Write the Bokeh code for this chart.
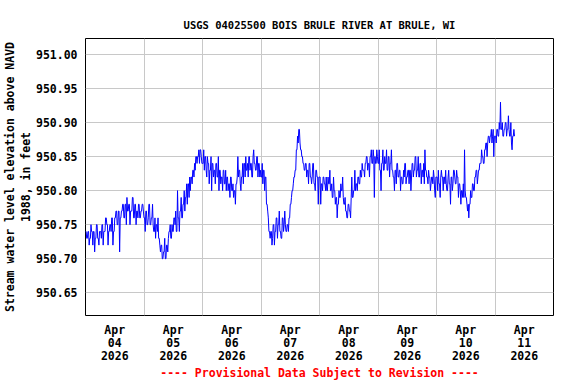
from bokeh.plotting import figure
from bokeh.models import FixedTicker, PrintfTickFormatter, Title, Range1d
from bokeh.embed import file_html
from bokeh.resources import INLINE

# ---- data: 15-minute gage heights, in hundredths of a foot above 950.70 ----
base_ft = 950.70
apr04 = [4,4,3,3, 4,4,2,3, 3,5,4,4, 2,4,4,1, 3,3,5,5, 3,3,2,4, 4,4,3,5, 5,2,4,4,
         4,6,6,5, 5,2,4,4, 5,5,4,6, 6,2,4,4, 6,6,7,7, 5,5,7,7, 1,6,6,7, 7,8,8,6,
         6,8,8,5, 9,7,7,8, 8,5,7,7, 7,9,9,6, 6,8,8,5, 7,7,6,8, 8,6,6,7, 7,8,8,7]
apr05 = [6,6,4,7, 7,5,5,6, 8,8,5,5, 6,6,8,5, 4,4,6,3, 5,5,4,6, 3,3,2,1, 2,2,0,0,
         1,1,3,0, 0,2,2,1, 3,4,4,5, 3,3,5,4, 4,6,6,5, 7,4,4,10, 6,6,4,7, 7,9,6,6,
         8,8,10,7, 9,9,11,8, 11,11,9,12, 10,12,12,11, 13,13,12,14, 13,15,15,14,
         15,15,16,14, 16,16,15,14]
apr06 = [14,14,16,13, 15,15,13,12, 15,14,14,11, 13,13,15,10, 14,14,12,13, 13,11,14,14,
         12,12,15,10, 13,13,11,12, 12,10,13,13, 11,11,13,10, 12,12,10,11, 11,9,12,12,
         10,10,11,9, 10,10,8,11, 11,12,15,12, 13,13,11,10, 12,12,14,11, 14,14,12,15,
         13,13,14,12, 15,15,13,14, 14,12,12,15, 16,14,14,13, 13,15,15,12, 14,14,12,13]
apr07 = [12,12,14,11, 13,13,10,12, 12,8,8,7, 6,4,4,3, 4,4,2,3, 5,5,2,4, 4,6,6,3, 5,5,7,4,
         4,3,3,6, 6,4,5,7, 5,4,4,5, 5,4,6,6, 8,8,9,10, 10,11,12,12, 13,13,16,16, 18,17,19,19,
         17,16,16,15, 15,14,14,13, 13,14,14,12, 13,13,11,14, 14,12,12,11, 12,14,14,11,
         11,10,13,13, 12,12,8,12]
apr08 = [12,12,8,11, 11,10,12,12, 11,11,10,12, 10,10,12,11, 11,13,10,10, 11,9,9,12,
         10,10,8,9, 9,6,8,8, 10,9,9,11, 10,10,12,9, 8,8,9,7, 7,6,6,8,
         8,7,7,6, 9,12,9,9, 10,10,13,10, 11,11,10,12, 12,11,11,13, 12,12,14,13,
         13,13,12,14, 14,15,15,13, 14,14,12,15, 15,16,14,14, 16,15,9,15, 14,14,16,15]
apr09 = [14,14,16,13, 13,10,14,14, 16,13,13,15, 14,14,16,13, 13,15,15,12, 14,14,16,13,
         13,12,12,10, 13,13,11,14, 14,12,12,13, 13,10,12,12, 11,11,13,12, 14,14,11,12,
         12,13,13,11, 13,13,10,12, 14,14,12,13, 13,15,15,12, 13,13,15,12, 12,14,14,11,
         13,13,12,14, 11,16,13,13, 12,12,11,13, 12,12,10,11, 12,12,11,13, 12,10,9,12]
apr10 = [12,12,10,13, 11,11,9,12, 13,12,12,10, 12,12,11,13, 11,10,10,12, 13,11,11,8,
         12,12,10,11, 13,13,12,11, 11,13,12,12, 9,11,11,10, 8,10,10,9, 11,9,16,10,
         9,9,8,7, 8,6,8,8, 10,9,9,11, 11,10,10,12, 12,13,13,11, 12,13,13,14,
         14,14,16,15, 15,14,14,16, 16,17,17,15, 17,18,18,17, 18,18,19,17, 18,19,15,18]
apr11 = [18,18,17,19, 19,18,18,20, 19,23,19,19, 20,18,18,19, 19,20,20,18, 19,19,21,19,
         18,18,20,17, 16,18,18,19, 18]

title_text = "USGS 04025500 BOIS BRULE RIVER AT BRULE, WI"
y_label_1 = "Stream water level elevation above NAVD"
y_label_2 = "1988, in feet"
footer_text = "---- Provisional Data Subject to Revision ----"
y_ticks = [950.65, 950.70, 950.75, 950.80, 950.85, 950.90, 950.95, 951.00]
x_tick_hours = [12, 36, 60, 84, 108, 132, 156, 180]
x_tick_labels = ["Apr\n04\n2026", "Apr\n05\n2026", "Apr\n06\n2026", "Apr\n07\n2026",
                 "Apr\n08\n2026", "Apr\n09\n2026", "Apr\n10\n2026", "Apr\n11\n2026"]
midnight_hours = [24, 48, 72, 96, 120, 144, 168]

days = [apr04, apr05, apr06, apr07, apr08, apr09, apr10, apr11]
vals = [round(base_ft + v / 100.0, 2) for d in days for v in d]
hours = [i * 0.25 for i in range(len(vals))]

FONT = "DejaVu Sans Mono"

p = figure(frame_width=468, frame_height=277, output_backend="svg", toolbar_location=None,
           title=None,
           x_range=Range1d(0, 192), y_range=Range1d(950.6166, 951.0235),
           min_border_left=0, min_border_right=14, min_border_top=0,
           min_border_bottom=0)

p.line(hours, vals, line_color="#0000ff", line_width=1)

# main title (nearest the frame), then a spacer above it
p.add_layout(Title(text=title_text, align="center", offset=-32, text_font=FONT,
                   text_font_size="10.5px", text_font_style="bold", text_color="black",
                   standoff=16), "above")
p.add_layout(Title(text=" ", text_font_size="5.7px", standoff=0), "above")

p.outline_line_color = "black"
p.outline_line_width = 1

# axes
for ax in (p.xaxis[0], p.yaxis[0]):
    ax.axis_line_color = None
    ax.major_tick_line_color = None
    ax.minor_tick_line_color = None
    ax.major_tick_out = 0
    ax.major_tick_in = 0
    ax.minor_tick_out = 0
    ax.minor_tick_in = 0
    ax.major_label_text_font = FONT
    ax.major_label_text_font_size = "11.5px"
    ax.major_label_text_font_style = "bold"
    ax.major_label_text_color = "black"

p.yaxis.ticker = FixedTicker(ticks=y_ticks)
p.yaxis.formatter = PrintfTickFormatter(format="%.2f")
p.yaxis.major_label_standoff = 8

p.xaxis.ticker = FixedTicker(ticks=x_tick_hours)
p.xaxis.major_label_overrides = {h: lab for h, lab in zip(x_tick_hours, x_tick_labels)}
p.xaxis.major_label_standoff = 7
p.xaxis.major_label_text_line_height = 0.96
p.xaxis.axis_label = footer_text
p.xaxis.axis_label_standoff = 0
p.xaxis.axis_label_text_font = FONT
p.xaxis.axis_label_text_font_size = "11.5px"
p.xaxis.axis_label_text_font_style = "bold"
p.xaxis.axis_label_text_color = "red"
p.xaxis.axis_label_text_line_height = 1.0

p.xgrid.ticker = FixedTicker(ticks=midnight_hours)
for g in (p.xgrid[0], p.ygrid[0]):
    g.grid_line_color = "#c8c8c8"
    g.grid_line_width = 1

# y-axis label as two stacked rotated lines
p.add_layout(Title(text=y_label_2, align="center", text_font=FONT, text_font_size="11.5px",
                   text_font_style="bold", text_color="black", text_line_height=1.0,
                   standoff=0), "left")
p.add_layout(Title(text=y_label_1, align="center", text_font=FONT, text_font_size="11.5px",
                   text_font_style="bold", text_color="black", text_line_height=1.0,
                   standoff=0), "left")

open("out.html", "w").write(file_html(p, INLINE))
